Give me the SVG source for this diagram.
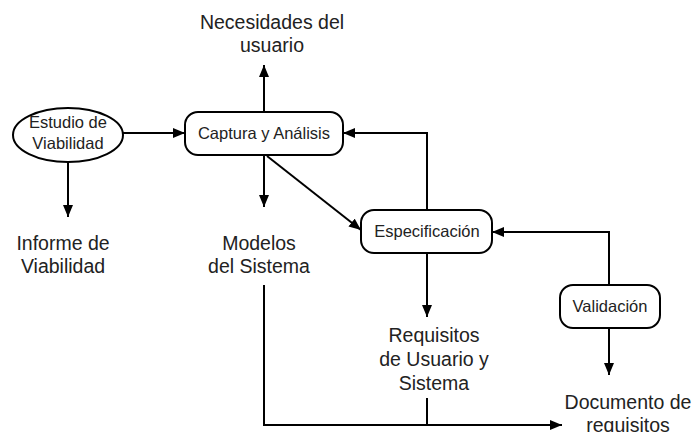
<svg xmlns="http://www.w3.org/2000/svg" width="696" height="432" viewBox="0 0 696 432">
<defs>
<marker id="ah" markerWidth="12" markerHeight="10" refX="12" refY="5" orient="auto" markerUnits="userSpaceOnUse">
<path d="M0,0 L12,5 L0,10 Z" fill="#000"/>
</marker>
<style>
.n{fill:#fff;stroke:#000;stroke-width:2}
.c{fill:none;stroke:#000;stroke-width:2}
.t{font-family:"Liberation Sans",Arial,sans-serif;font-size:16.5px;fill:#222;text-anchor:middle}
.l{font-family:"Liberation Sans",Arial,sans-serif;font-size:19.5px;fill:#222;text-anchor:middle}
</style>
</defs>
<rect width="696" height="432" fill="#fff"/>
<g id="connectors">
<path class="c" d="M123,133 L185,133" marker-end="url(#ah)"/>
<path class="c" d="M68,163 L68,217" marker-end="url(#ah)"/>
<path class="c" d="M264,112 L264,65" marker-end="url(#ah)"/>
<path class="c" d="M264,155 L264,207" marker-end="url(#ah)"/>
<path class="c" d="M267,156 L361,230" marker-end="url(#ah)"/>
<path class="c" d="M427,210 L427,133 L343,133" marker-end="url(#ah)"/>
<path class="c" d="M427,253 L427,317" marker-end="url(#ah)"/>
<path class="c" d="M609,285 L609,232 L492,232" marker-end="url(#ah)"/>
<path class="c" d="M609,328 L609,375" marker-end="url(#ah)"/>
<path class="c" d="M264,285 L264,425 L562,425" marker-end="url(#ah)"/>
<path class="c" d="M427,398 L427,425"/>
</g>
<g id="estudio">
<ellipse class="n" cx="68" cy="135" rx="55" ry="27"/>
<text class="t" x="68" y="128">Estudio de</text>
<text class="t" x="68" y="149">Viabilidad</text>
</g>
<g id="captura">
<rect class="n" x="185" y="112" width="158" height="43" rx="13"/>
<text class="t" x="264" y="139">Captura y Análisis</text>
</g>
<g id="especificacion">
<rect class="n" x="361" y="210" width="131" height="43" rx="13"/>
<text class="t" x="427" y="237">Especificación</text>
</g>
<g id="validacion">
<rect class="n" x="560" y="285" width="100" height="43" rx="13"/>
<text class="t" x="610" y="312">Validación</text>
</g>
<g id="necesidades">
<text class="l" x="272" y="29">Necesidades del</text>
<text class="l" x="272" y="52">usuario</text>
</g>
<g id="informe">
<text class="l" x="63" y="250">Informe de</text>
<text class="l" x="63" y="273">Viabilidad</text>
</g>
<g id="modelos">
<text class="l" x="259" y="250">Modelos</text>
<text class="l" x="259" y="273">del Sistema</text>
</g>
<g id="requisitos">
<text class="l" x="434" y="342">Requisitos</text>
<text class="l" x="434" y="366">de Usuario y</text>
<text class="l" x="434" y="390">Sistema</text>
</g>
<g id="documento">
<text class="l" x="628" y="409">Documento de</text>
<text class="l" x="628" y="432">requisitos</text>
</g>
</svg>
